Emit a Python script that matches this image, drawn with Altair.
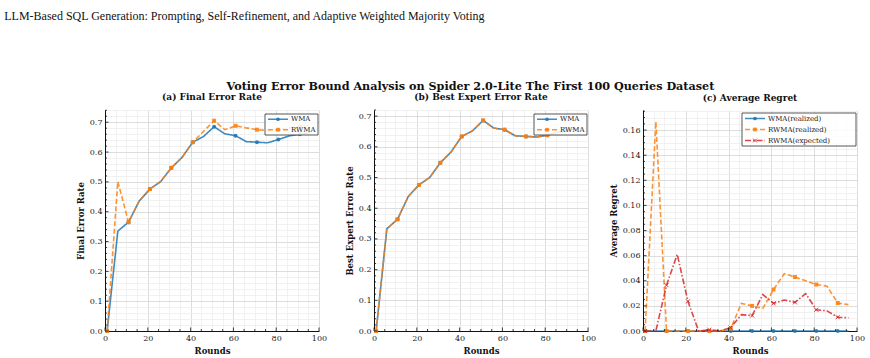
import altair as alt
import pandas as pd

# ---- data -------------------------------------------------------------
rounds = [1, 6, 11, 16, 21, 26, 31, 36, 41, 46, 51, 56, 61, 66, 71, 76, 81, 86, 91, 96]

final_wma = [0.0, 0.335, 0.365, 0.436, 0.476, 0.501, 0.547, 0.582, 0.633, 0.652,
             0.685, 0.661, 0.655, 0.635, 0.633, 0.631, 0.642, 0.654, 0.660, 0.664]
final_rwma = [0.0, 0.501, 0.365, 0.436, 0.476, 0.501, 0.547, 0.582, 0.633, 0.669,
              0.705, 0.675, 0.688, 0.681, 0.675, 0.672, 0.676, 0.681, 0.686, 0.690]

best_wma = [0.0, 0.333, 0.364, 0.438, 0.476, 0.500, 0.548, 0.583, 0.634, 0.652,
            0.686, 0.661, 0.656, 0.636, 0.634, 0.632, 0.638, 0.648, 0.655, 0.660]
best_rwma = [0.0, 0.333, 0.364, 0.438, 0.476, 0.500, 0.548, 0.583, 0.634, 0.652,
             0.686, 0.661, 0.656, 0.636, 0.634, 0.632, 0.638, 0.648, 0.655, 0.660]

regret_wma = [0.0, 0.0, 0.0, 0.0, 0.0, 0.0, 0.0, 0.0, 0.0, 0.0,
              0.0, 0.0, 0.0, 0.0, 0.0, 0.0, 0.0, 0.0, 0.0, 0.0]
regret_rwma = [0.0, 0.1667, 0.0, 0.0, 0.0, 0.0, 0.0, 0.0, 0.002, 0.022,
               0.020, 0.018, 0.033, 0.0456, 0.043, 0.040, 0.037, 0.0357, 0.0223, 0.021]
regret_rwma_exp = [0.0, 0.0, 0.0365, 0.061, 0.0236, 0.0, 0.001, 0.0, 0.0027, 0.013,
                   0.0123, 0.029, 0.022, 0.0247, 0.0228, 0.0298, 0.0169, 0.016, 0.011, 0.0105]

HEADER = "LLM-Based SQL Generation: Prompting, Self-Refinement, and Adaptive Weighted Majority Voting"
SUPTITLE = "Voting Error Bound Analysis on Spider 2.0-Lite The First 100 Queries Dataset"

# ---- styling -----------------------------------------------------------
SERIF = "DejaVu Serif"
BLUE, ORANGE, RED = "#1f77b4", "#ff7f0e", "#d62728"
MAJOR, MINOR = "#d4d4d4", "#eeeeee"
INK = "#111111"
PW, PH = 214, 221
X_SHAPE = "M-1,-1L1,1M-1,1L1,-1"
MAJOR_TICK, MINOR_TICK = 3.5, 2.0

STYLES = {
    "WMA": dict(color=BLUE, dash=[1, 0], shape="circle", filled=True),
    "RWMA": dict(color=ORANGE, dash=[5, 2.5], shape="square", filled=True),
    "WMA(realized)": dict(color=BLUE, dash=[1, 0], shape="circle", filled=True),
    "RWMA(realized)": dict(color=ORANGE, dash=[5, 2.5], shape="square", filled=True),
    "RWMA(expected)": dict(color=RED, dash=[6, 2, 1.5, 2], shape=X_SHAPE, filled=False),
}


def long_frame(series):
    rows = []
    for name, vals in series:
        for r, v in zip(rounds, vals):
            rows.append({"round": r, "value": v, "series": name})
    return pd.DataFrame(rows)


def is_major(step):
    return f"abs(datum.value / {step} - round(datum.value / {step})) < 1e-6"


def tick_values(vmax, step, nminor):
    minor = step / nminor
    n = int(vmax / minor + 1e-9)
    vals = [round(i * minor, 6) for i in range(n + 1)]
    majors = [v for v in vals if abs(v / step - round(v / step)) < 1e-6]
    minors = [v for v in vals if v not in majors]
    return vals, majors, minors


def axes(ytitle, ymax, ystep, ynminor, yfmt):
    x_vals, _, _ = tick_values(100, 20, 4)
    xaxis = alt.Axis(
        values=x_vals, title="Rounds", format="d", labelOverlap=False, labelFlush=False,
        ticks=False, labelExpr="datum.value % 20 === 0 ? datum.label : ''",
        gridColor={"condition": {"test": "datum.value % 20 === 0", "value": MAJOR}, "value": MINOR},
    )
    y_vals, _, _ = tick_values(ymax, ystep, ynminor)
    yaxis = alt.Axis(
        values=y_vals, title=ytitle, format=yfmt, labelOverlap=False, labelFlush=False,
        ticks=False, labelExpr=f"{is_major(ystep)} ? datum.label : ''",
        gridColor={"condition": {"test": is_major(ystep), "value": MAJOR}, "value": MINOR},
    )
    x = alt.X("round:Q", scale=alt.Scale(domain=[0, 100], nice=False), axis=xaxis)
    y = alt.Y("value:Q", scale=alt.Scale(domain=[0, ymax], nice=False, zero=True), axis=yaxis)
    return x, y


def inward_ticks(x, y, ymax, ystep, ynminor):
    """Tick marks drawn on the inner side of the left and bottom spines."""
    _, xmaj, xmin = tick_values(100, 20, 4)
    _, ymaj, ymin = tick_values(ymax, ystep, ynminor)
    layers = []
    for vals, size in ((xmaj, MAJOR_TICK), (xmin, MINOR_TICK)):
        layers.append(alt.Chart(pd.DataFrame({"round": vals})).mark_rule(
            color=INK, strokeWidth=0.8).encode(x=x, y=alt.value(PH), y2=alt.value(PH - size)))
    for vals, size in ((ymaj, MAJOR_TICK), (ymin, MINOR_TICK)):
        layers.append(alt.Chart(pd.DataFrame({"value": vals})).mark_rule(
            color=INK, strokeWidth=0.8).encode(y=y, x=alt.value(0), x2=alt.value(size)))
    return layers


def legend_layers(names, box):
    one = pd.DataFrame({"k": [0]})
    x0, x1, y0, y1 = box
    layers = [
        alt.Chart(one).mark_rect(fill="white", fillOpacity=0.85, stroke="#444",
                                 strokeWidth=0.9).encode(
            x=alt.value(x0), x2=alt.value(x1), y=alt.value(y0), y2=alt.value(y1))
    ]
    row_h = (y1 - y0) / len(names)
    for i, name in enumerate(names):
        st = STYLES[name]
        yc = y0 + row_h * (i + 0.5)
        lx0, lx1 = x0 + 3, x0 + 23
        layers.append(alt.Chart(one).mark_rule(color=st["color"], strokeWidth=1.6,
                                               strokeDash=st["dash"], opacity=0.85).encode(
            x=alt.value(lx0), x2=alt.value(lx1), y=alt.value(yc), y2=alt.value(yc)))
        layers.append(alt.Chart(one).mark_point(shape=st["shape"], filled=st["filled"],
                                                color=st["color"], size=14, opacity=0.9,
                                                strokeWidth=1).encode(
            x=alt.value((lx0 + lx1) / 2), y=alt.value(yc)))
        layers.append(alt.Chart(one).mark_text(text=name, align="left", baseline="middle",
                                               font=SERIF, fontSize=7, color="#222").encode(
            x=alt.value(lx1 + 3), y=alt.value(yc)))
    return layers


def panel(series, title, ytitle, ymax, ystep, ynminor, yfmt, box):
    df = long_frame(series)
    x, y = axes(ytitle, ymax, ystep, ynminor, yfmt)
    base = alt.Chart(df)
    layers = []
    for name, _ in series:
        st = STYLES[name]
        sub = base.transform_filter(alt.datum.series == name)
        layers.append(sub.mark_line(color=st["color"], strokeWidth=1.6, strokeDash=st["dash"],
                                    opacity=0.85).encode(x=x, y=y))
        layers.append(sub.transform_filter("(datum.round - 1) % 10 === 0").mark_point(
            shape=st["shape"], filled=st["filled"], color=st["color"], size=16,
            opacity=0.9, strokeWidth=1).encode(x=x, y=y))
    layers += inward_ticks(x, y, ymax, ystep, ynminor)
    layers += legend_layers([n for n, _ in series], box)
    return alt.layer(*layers).properties(
        width=PW, height=PH,
        title=alt.TitleParams(title, font=SERIF, fontSize=9, fontWeight="bold",
                              color=INK, offset=4),
    )


pa = panel([("WMA", final_wma), ("RWMA", final_rwma)], "(a) Final Error Rate",
           "Final Error Rate", 0.741, 0.1, 5, ".1f", (160, 213, 4, 25))
pb = panel([("WMA", best_wma), ("RWMA", best_rwma)], "(b) Best Expert Error Rate",
           "Best Expert Error Rate", 0.720, 0.1, 5, ".1f", (160, 213, 4, 25))
pc = panel([("WMA(realized)", regret_wma), ("RWMA(realized)", regret_rwma),
            ("RWMA(expected)", regret_rwma_exp)], "(c) Average Regret",
           "Average Regret", 0.176, 0.02, 4, ".2f", (99, 213, 3, 36))

row = alt.hconcat(pa, pb, pc, spacing=55, bounds="flush").properties(
    title=alt.TitleParams(SUPTITLE, font=SERIF, fontSize=11.2, fontWeight="bold",
                          color=INK, anchor="middle", offset=1)
)

chart = alt.vconcat(row).properties(
    title=alt.TitleParams(HEADER, font="Liberation Serif", fontSize=12, fontWeight="normal",
                          color=INK, anchor="start", dx=-72, offset=58),
    padding={"left": 4, "top": 9, "right": 4, "bottom": 4},
    background="white",
).configure_view(stroke=None).configure_axis(
    labelFont=SERIF, labelFontSize=8, labelColor="#222",
    titleFont=SERIF, titleFontSize=8.5, titleFontWeight="bold", titleColor=INK,
    domainColor=INK, domainWidth=1,
    labelPadding=3, titlePadding=4, gridWidth=0.8,
)

chart.save("out.html", embed_options={"renderer": "svg", "actions": False})
